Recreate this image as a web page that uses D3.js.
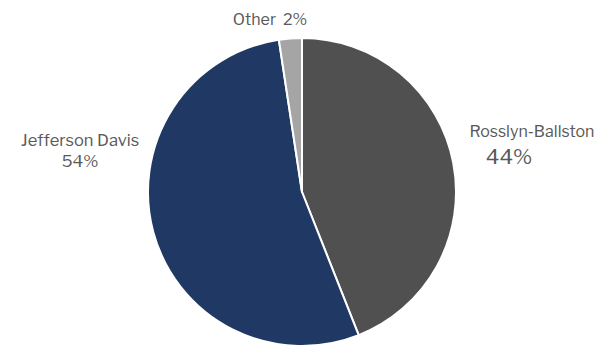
<!DOCTYPE html>
<html lang="en">
<head>
  <meta charset="UTF-8">
  <title>Pie</title>
  <style>
    body { margin: 0; background: #fff; }
    svg { display: block; font-family: "Libre Franklin", "Liberation Sans", Arial, sans-serif; }
  </style>
</head>
<body>
  <div id="chart"></div>
  <script src="https://d3js.org/d3.v7.min.js"></script>
  <script>
    const categories = ["Rosslyn-Ballston", "Jefferson Davis", "Other"];
    const shares = [44.0, 53.6, 2.4];
    const colors = ["#505050", "#1F3864", "#A5A5A5"];

    const width = 605, height = 347;
    const cx = 302, cy = 192, radius = 154;

    const svg = d3.select("#chart").append("svg")
      .attr("width", width)
      .attr("height", height);

    const data = categories.map((c, i) => ({ name: c, value: shares[i], color: colors[i] }));

    const pie = d3.pie().sort(null).value(d => d.value);
    const arc = d3.arc().innerRadius(0).outerRadius(radius);

    const g = svg.append("g").attr("transform", `translate(${cx},${cy})`);

    const arcs = pie(data);

    g.selectAll("path")
      .data(arcs)
      .enter()
      .append("path")
      .attr("d", arc)
      .attr("fill", d => d.data.color)
      .attr("stroke", "#fff")
      .attr("stroke-width", 2)
      .attr("stroke-linejoin", "round");

    const pct = v => Math.round(v) + "%";

    // labels (placed like Excel's best fit)
    const labelColor = "#595959";

    // Rosslyn-Ballston
    const rb = svg.append("text").attr("fill", labelColor).attr("text-anchor", "middle");
    rb.append("tspan").attr("x", 532).attr("y", 137).attr("font-size", 16).text(arcs[0].data.name);
    rb.append("tspan").attr("x", 509).attr("y", 164).attr("font-size", 21).text(pct(arcs[0].data.value));

    // Jefferson Davis
    const jd = svg.append("text").attr("fill", labelColor).attr("text-anchor", "middle");
    jd.append("tspan").attr("x", 80).attr("y", 146).attr("font-size", 16.5).text(arcs[1].data.name);
    jd.append("tspan").attr("x", 80).attr("y", 167).attr("font-size", 16.5).text(pct(arcs[1].data.value));

    // Other
    svg.append("text")
      .attr("fill", labelColor)
      .attr("text-anchor", "middle")
      .attr("x", 270)
      .attr("y", 25)
      .attr("font-size", 16)
      .text(arcs[2].data.name + "\u00a0\u00a0" + pct(arcs[2].data.value));
  </script>
</body>
</html>
